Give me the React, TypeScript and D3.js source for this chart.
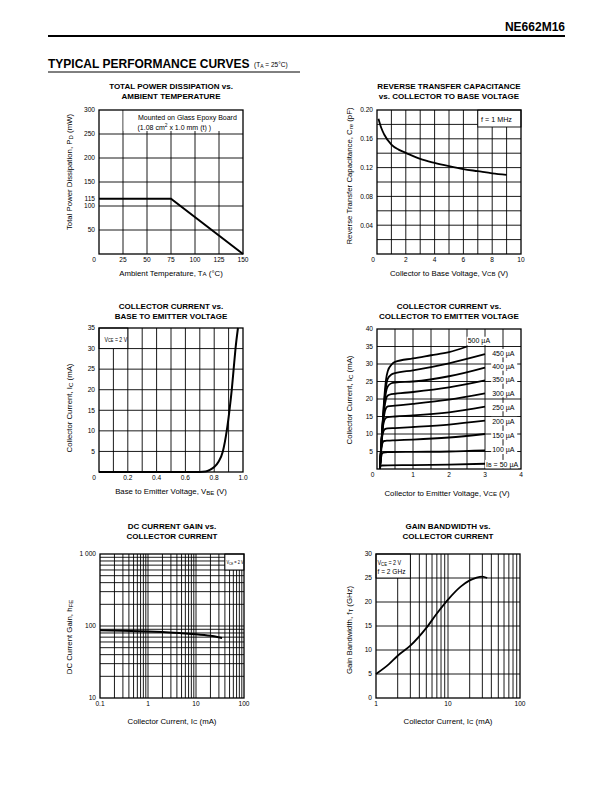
import React from "react";
import * as d3 from "d3";

const FONT = "'Liberation Sans', Arial, Helvetica, sans-serif";

// ---------- Chart 1: Total power dissipation vs ambient temperature ----------
const pdTemp = [0, 75, 150];
const pdPower = [115, 115, 0];
const pdXTicks = [0, 25, 50, 75, 100, 125, 150];
const pdYTicks = [50, 100, 115, 150, 200, 250, 300];

// ---------- Chart 2: Reverse transfer capacitance vs VCB ----------
const creVcb = [0.1, 0.3, 0.5, 1, 1.5, 2, 3, 4, 5, 6, 7, 8, 9];
const creCap = [0.188, 0.175, 0.166, 0.152, 0.145, 0.1405, 0.132, 0.1265, 0.122, 0.118, 0.115, 0.112, 0.11];
const creXTicks = [0, 2, 4, 6, 8, 10];
const creYTicks = [0.04, 0.08, 0.12, 0.16, 0.2];

// ---------- Chart 3: Collector current vs VBE ----------
const vbeVolt = [0, 0.7, 0.74, 0.77, 0.8, 0.83, 0.86, 0.887, 0.906, 0.922, 0.935, 0.948, 0.965];
const vbeIc = [0, 0, 0.1, 0.5, 1.2, 2.5, 5, 10, 15, 20, 25, 30, 35];
const vbeXTicks = [0, 0.2, 0.4, 0.6, 0.8, 1.0];
const vbeYTicks = [5, 10, 15, 20, 25, 30, 35];

// ---------- Chart 4: Collector current vs VCE (IB family) ----------
const ibLabels = ["500 µA", "450 µA", "400 µA", "350 µA", "300 µA", "250 µA", "200 µA", "150 µA", "100 µA", "50 µA"];
const ibLabelIc = [36.6, 33.1, 29.3, 25.6, 21.7, 17.7, 13.7, 9.7, 5.5, 1.4];
const ib500 = [[0.08, 0], [0.15, 12], [0.2, 20], [0.25, 25.5], [0.3, 28], [0.4, 29.8], [0.5, 30.6], [1, 31.6], [1.5, 32.5], [2, 33.4], [2.5, 35]];
const ib450 = [[0.08, 0], [0.15, 12], [0.2, 19], [0.25, 23.5], [0.3, 25.8], [0.4, 27], [0.5, 27.4], [1, 28.2], [2, 30.2], [3, 32.8]];
const ib400 = [[0.08, 0], [0.15, 12], [0.2, 18], [0.25, 22], [0.3, 23.6], [0.4, 24.5], [0.5, 24.7], [1, 25], [2, 26.5], [3, 29]];
const ib350 = [[0.08, 0], [0.15, 11.5], [0.2, 17], [0.25, 20], [0.3, 21], [0.4, 21.4], [0.5, 21.5], [1, 22], [2, 23.3], [3, 25.3]];
const ib300 = [[0.08, 0], [0.15, 11], [0.2, 15.5], [0.25, 17.4], [0.3, 17.9], [0.5, 18.1], [1, 18.6], [2, 19.8], [3, 21.6]];
const ib250 = [[0.08, 0], [0.14, 10], [0.2, 13.8], [0.25, 14.6], [0.3, 14.8], [0.5, 15], [1, 15.3], [2, 16.2], [3, 17.8]];
const ib200 = [[0.08, 0], [0.13, 8], [0.18, 10.8], [0.22, 11.4], [0.3, 11.6], [0.5, 11.7], [1, 12], [2, 12.7], [3, 13.8]];
const ib150 = [[0.08, 0], [0.12, 5.5], [0.16, 7.6], [0.2, 8.0], [0.3, 8.1], [0.5, 8.2], [1, 8.4], [2, 9], [3, 10]];
const ib100 = [[0.08, 0], [0.11, 3], [0.14, 4.4], [0.18, 4.7], [0.3, 4.8], [1, 4.9], [2, 5.0], [3, 5.3]];
const ib50 = [[0.08, 0], [0.1, 0.8], [0.13, 1.0], [0.3, 1.05], [1, 1.1], [2, 1.25], [3, 1.5]];
const vceXTicks = [0, 1, 2, 3, 4];
const vceYTicks = [5, 10, 15, 20, 25, 30, 35, 40];

// ---------- Chart 5: DC current gain vs IC ----------
const hfeIc = [0.1, 0.3, 1, 2, 5, 10, 20, 35];
const hfeGain = [87, 86, 84, 82.5, 79.5, 77, 73, 68];
const hfeXTicks = [0.1, 1, 10, 100];
const hfeXTickLabels = ["0.1", "1", "10", "100"];
const hfeYTicks = [10, 100, 1000];
const hfeYTickLabels = ["10", "100", "1 000"];

// ---------- Chart 6: Gain bandwidth vs IC ----------
const ftIc = [1, 1.5, 2, 3, 5, 7, 10, 15, 20, 25, 30, 35];
const ftGHz = [5, 7, 8.8, 10.9, 14.6, 17.6, 20.5, 23.2, 24.5, 25.1, 25.3, 25.0];
const ftXTicks = [1, 10, 100];
const ftYTicks = [0, 5, 10, 15, 20, 25, 30];

type Part = string | { sub: string } | { sup: string };

function Rich({ parts }: { parts: Part[] }) {
  const out: any[] = [];
  let shift = 0;
  parts.forEach((p, i) => {
    if (typeof p === "string") {
      out.push(<tspan key={i} dy={-shift}>{p}</tspan>);
      shift = 0;
    } else if ("sub" in p) {
      out.push(<tspan key={i} fontSize="0.78em" dy={0.8 - shift}>{p.sub}</tspan>);
      shift = 0.8;
    } else {
      out.push(<tspan key={i} fontSize="0.7em" dy={-3 - shift}>{p.sup}</tspan>);
      shift = -3;
    }
  });
  return <>{out}</>;
}

const TITLE_FS = 8;
const AX_FS = 7.8;
const TICK_FS = 6.6;

function Titles({ cx, y, lines }: { cx: number; y: number; lines: string[] }) {
  return (
    <g fontWeight="bold" fontSize={TITLE_FS} textAnchor="middle">
      {lines.map((l, i) => (
        <text key={i} x={cx} y={y + i * 9.8}>{l}</text>
      ))}
    </g>
  );
}

function XLabel({ cx, y, parts }: { cx: number; y: number; parts: Part[] }) {
  return (
    <text x={cx} y={y} fontSize={AX_FS} textAnchor="middle"><Rich parts={parts} /></text>
  );
}

function YLabel({ x, cy, parts }: { x: number; cy: number; parts: Part[] }) {
  return (
    <text transform={`translate(${x},${cy}) rotate(-90)`} fontSize={AX_FS} textAnchor="middle"><Rich parts={parts} /></text>
  );
}

function Grid({ x, y, xs, ys }: { x: any; y: any; xs: number[]; ys: number[] }) {
  const [x0, x1] = x.range();
  const [y0, y1] = y.range();
  return (
    <g stroke="#000" strokeWidth={0.9}>
      {xs.map((v, i) => <line key={"x" + i} x1={x(v)} x2={x(v)} y1={y0} y2={y1} />)}
      {ys.map((v, i) => <line key={"y" + i} x1={x0} x2={x1} y1={y(v)} y2={y(v)} />)}
    </g>
  );
}

function Frame({ x, y }: { x: any; y: any }) {
  const [x0, x1] = x.range();
  const [y0, y1] = y.range();
  return <rect x={x0} y={y1} width={x1 - x0} height={y0 - y1} fill="none" stroke="#000" strokeWidth={1.3} />;
}

function XTicks({ x, y, ticks, labels, cornerShift = 0 }: any) {
  const by = y.range()[0] + 8;
  return (
    <g fontSize={TICK_FS} textAnchor="middle">
      {ticks.map((v: number, i: number) => (
        <text key={i} x={x(v) + (i === 0 ? cornerShift : 0)} y={by}>{labels ? labels[i] : String(v)}</text>
      ))}
    </g>
  );
}

function YTicks({ x, y, ticks, labels }: any) {
  const lx = x.range()[0] - 4;
  return (
    <g fontSize={TICK_FS} textAnchor="end">
      {ticks.map((v: number, i: number) => (
        <text key={i} x={lx} y={y(v) + 2.3}>{labels ? labels[i] : String(v)}</text>
      ))}
    </g>
  );
}

// Narrowed box text (the datasheet uses a condensed face inside these boxes)
function BoxText({ x, y, sx, fs, parts }: { x: number; y: number; sx: number; fs: number; parts: Part[] }) {
  return (
    <text transform={`translate(${x},${y}) scale(${sx},1)`} fontSize={fs}><Rich parts={parts} /></text>
  );
}

function Chart1() {
  const x = d3.scaleLinear().domain([0, 150]).range([99, 243]);
  const y = d3.scaleLinear().domain([0, 300]).range([254, 110]);
  const line = d3.line<number>().x((d) => x(pdTemp[d])).y((d) => y(pdPower[d]));
  return (
    <g>
      <Titles cx={171} y={89} lines={["TOTAL POWER DISSIPATION vs.", "AMBIENT TEMPERATURE"]} />
      <Grid x={x} y={y} xs={d3.range(25, 150, 25)} ys={d3.range(50, 300, 50)} />
      <rect x={x(25) + 0.6} y={y(300)} width={x(150) - x(25) - 0.6} height={21} fill="#fff" />
      <Frame x={x} y={y} />
      <path d={line(pdTemp.map((_, i) => i)) || ""} fill="none" stroke="#000" strokeWidth={2} />
      <g fontSize={7}>
        <text x={138} y={119.5}>Mounted on Glass Epoxy Board</text>
        <text x={137.5} y={129.5}><Rich parts={["(1.08 cm", { sup: "2" }, " x 1.0 mm (t) )"]} /></text>
      </g>
      <XTicks x={x} y={y} ticks={pdXTicks} cornerShift={-5} />
      <YTicks x={x} y={y} ticks={pdYTicks} />
      <XLabel cx={171} y={275.5} parts={["Ambient Temperature, T", { sub: "A" }, " (°C)"]} />
      <YLabel x={71.8} cy={172} parts={["Total Power Dissipation, P", { sub: "D" }, " (mW)"]} />
    </g>
  );
}

function Chart2() {
  const x = d3.scaleLinear().domain([0, 10]).range([377, 521]);
  const y = d3.scaleLinear().domain([0, 0.2]).range([254, 110]);
  const line = d3.line<number>().x((i) => x(creVcb[i])).y((i) => y(creCap[i])).curve(d3.curveMonotoneX);
  return (
    <g>
      <Titles cx={449} y={89} lines={["REVERSE TRANSFER CAPACITANCE", "vs. COLLECTOR TO BASE VOLTAGE"]} />
      <Grid x={x} y={y} xs={d3.range(1, 10)} ys={d3.range(1, 10).map((k) => k * 0.02)} />
      <rect x={x(7)} y={y(0.2)} width={x(10) - x(7)} height={17} fill="#fff" stroke="#000" strokeWidth={0.9} />
      <text x={481} y={121.5} fontSize={7.2}>f = 1 MHz</text>
      <Frame x={x} y={y} />
      <path d={line(creVcb.map((_, i) => i)) || ""} fill="none" stroke="#000" strokeWidth={1.8} />
      <XTicks x={x} y={y} ticks={creXTicks} cornerShift={-4} />
      <YTicks x={x} y={y} ticks={creYTicks} labels={creYTicks.map((v) => d3.format(".2f")(v))} />
      <XLabel cx={449} y={275.5} parts={["Collector to Base Voltage, V", { sub: "CB" }, " (V)"]} />
      <YLabel x={351.8} cy={176} parts={["Reverse Transfer Capacitance, C", { sub: "re" }, " (pF)"]} />
    </g>
  );
}

function Chart3() {
  const x = d3.scaleLinear().domain([0, 1]).range([99, 243]);
  const y = d3.scaleLinear().domain([0, 35]).range([472, 328]);
  const line = d3.line<number>().x((i) => x(vbeVolt[i])).y((i) => y(vbeIc[i])).curve(d3.curveMonotoneX);
  return (
    <g>
      <Titles cx={171} y={309} lines={["COLLECTOR CURRENT vs.", "BASE TO EMITTER VOLTAGE"]} />
      <Grid x={x} y={y} xs={d3.range(1, 10).map((k) => k / 10)} ys={d3.range(5, 35, 5)} />
      <rect x={x(0)} y={y(35)} width={x(0.2) - x(0)} height={y(30) - y(35)} fill="#fff" stroke="#000" strokeWidth={0.9} />
      <BoxText x={104.5} y={341.5} sx={0.78} fs={6.6} parts={["V", { sub: "CE" }, " = 2 V"]} />
      <Frame x={x} y={y} />
      <path d={line(vbeVolt.map((_, i) => i)) || ""} fill="none" stroke="#000" strokeWidth={2} />
      <XTicks x={x} y={y} ticks={vbeXTicks} cornerShift={-5} labels={vbeXTicks.map((v) => (v === 0 ? "0" : d3.format(".1f")(v)))} />
      <YTicks x={x} y={y} ticks={vbeYTicks} />
      <XLabel cx={171} y={494} parts={["Base to Emitter Voltage, V", { sub: "BE" }, " (V)"]} />
      <YLabel x={71.8} cy={408} parts={["Collector Current, I", { sub: "C" }, " (mA)"]} />
    </g>
  );
}

function Chart4() {
  const x = d3.scaleLinear().domain([0, 4]).range([377, 521]);
  const y = d3.scaleLinear().domain([0, 40]).range([469, 329]);
  const line = d3.line<number[]>().x((d) => x(d[0])).y((d) => y(d[1])).curve(d3.curveMonotoneX);
  const curves = [ib500, ib450, ib400, ib350, ib300, ib250, ib200, ib150, ib100, ib50];
  return (
    <g>
      <Titles cx={449} y={309} lines={["COLLECTOR CURRENT vs.", "COLLECTOR TO EMITTER VOLTAGE"]} />
      <Grid x={x} y={y} xs={d3.range(0.5, 4, 0.5)} ys={d3.range(5, 40, 5)} />
      <Frame x={x} y={y} />
      {curves.map((c, i) => (
        <path key={i} d={line(c as any) || ""} fill="none" stroke="#000" strokeWidth={1.8} />
      ))}
      <g fontSize={7}>
        {ibLabels.map((l, i) => {
          const isFirst = i === 0;
          const isLast = i === ibLabels.length - 1;
          const tx = isFirst ? x(2.52) : isLast ? x(3.03) : x(3.2);
          const w = isLast ? 33 : 26;
          const cy = y(ibLabelIc[i]);
          return (
            <g key={i}>
              <rect x={tx - 1} y={cy - 4.2} width={w} height={8.4} fill="#fff" />
              <text x={tx} y={cy + 2.5}>
                {isLast ? <Rich parts={["I", { sub: "B" }, " = " + l]} /> : l}
              </text>
            </g>
          );
        })}
      </g>
      <XTicks x={x} y={y} ticks={vceXTicks} cornerShift={-4.3} />
      <YTicks x={x} y={y} ticks={vceYTicks} />
      <XLabel cx={447} y={495.5} parts={["Collector to Emitter Voltage, V", { sub: "CE" }, " (V)"]} />
      <YLabel x={351.8} cy={400} parts={["Collector Current, I", { sub: "C" }, " (mA)"]} />
    </g>
  );
}

function Chart5() {
  const x = d3.scaleLog().domain([0.1, 100]).range([100, 244]);
  const y = d3.scaleLog().domain([10, 1000]).range([698, 554]);
  const line = d3.line<number>().x((i) => x(hfeIc[i])).y((i) => y(hfeGain[i])).curve(d3.curveMonotoneX);
  const xs = x.ticks().filter((v: number) => v > 0.1 && v < 100);
  const ys = y.ticks().filter((v: number) => v > 10 && v < 1000);
  return (
    <g>
      <Titles cx={172} y={529} lines={["DC CURRENT GAIN vs.", "COLLECTOR CURRENT"]} />
      <Grid x={x} y={y} xs={xs} ys={ys} />
      <rect x={x(40)} y={y(1000)} width={x(100) - x(40)} height={y(600) - y(1000)} fill="#fff" stroke="#000" strokeWidth={0.9} />
      <BoxText x={x(40) + 1.5} y={564.3} sx={0.7} fs={5.6} parts={["V", { sub: "CE" }, " = 2 V"]} />
      <Frame x={x} y={y} />
      <path d={line(hfeIc.map((_, i) => i)) || ""} fill="none" stroke="#000" strokeWidth={2} />
      <XTicks x={x} y={y} ticks={hfeXTicks} labels={hfeXTickLabels} />
      <YTicks x={x} y={y} ticks={hfeYTicks} labels={hfeYTickLabels} />
      <XLabel cx={172} y={723.5} parts={["Collector Current, I", { sub: "C" }, " (mA)"]} />
      <YLabel x={72.3} cy={637} parts={["DC Current Gain, h", { sub: "FE" }]} />
    </g>
  );
}

function Chart6() {
  const x = d3.scaleLog().domain([1, 100]).range([376, 520]);
  const y = d3.scaleLinear().domain([0, 30]).range([698, 554]);
  const line = d3.line<number>().x((i) => x(ftIc[i])).y((i) => y(ftGHz[i])).curve(d3.curveMonotoneX);
  const xs = x.ticks().filter((v: number) => v > 1 && v < 100);
  return (
    <g>
      <Titles cx={448} y={529} lines={["GAIN BANDWIDTH vs.", "COLLECTOR CURRENT"]} />
      <Grid x={x} y={y} xs={xs} ys={d3.range(5, 30, 5)} />
      <rect x={x(1)} y={y(30)} width={x(3) - x(1)} height={y(25) - y(30)} fill="#fff" stroke="#000" strokeWidth={0.9} />
      <BoxText x={377.5} y={565} sx={0.82} fs={6.6} parts={["V", { sub: "CE" }, " = 2 V"]} />
      <BoxText x={377.5} y={573.5} sx={1} fs={6.6} parts={["f = 2 GHz"]} />
      <Frame x={x} y={y} />
      <path d={line(ftIc.map((_, i) => i)) || ""} fill="none" stroke="#000" strokeWidth={1.8} />
      <XTicks x={x} y={y} ticks={ftXTicks} />
      <YTicks x={x} y={y} ticks={ftYTicks} />
      <XLabel cx={448} y={723.5} parts={["Collector Current, I", { sub: "C" }, " (mA)"]} />
      <YLabel x={351.8} cy={630} parts={["Gain Bandwidth, f", { sub: "T" }, " (GHz)"]} />
    </g>
  );
}

export default function App() {
  return (
    <svg
      width={612}
      height={792}
      viewBox="0 0 612 792"
      style={{ position: "absolute", left: 0, top: 0, background: "#fff" }}
      fontFamily={FONT}
      fill="#000"
    >
      <rect width={612} height={792} fill="#fff" />
      <text x={565} y={31} fontSize={12} fontWeight="bold" textAnchor="end">NE662M16</text>
      <line x1={48} x2={565} y1={36} y2={36} stroke="#000" strokeWidth={2} />
      <text x={48} y={67.5} fontSize={12} fontWeight="bold">TYPICAL PERFORMANCE CURVES</text>
      <text x={254} y={67} fontSize={6.5}><Rich parts={["(T", { sub: "A" }, " = 25°C)"]} /></text>
      <line x1={48} x2={300} y1={72} y2={72} stroke="#000" strokeWidth={1} />
      <Chart1 />
      <Chart2 />
      <Chart3 />
      <Chart4 />
      <Chart5 />
      <Chart6 />
    </svg>
  );
}
